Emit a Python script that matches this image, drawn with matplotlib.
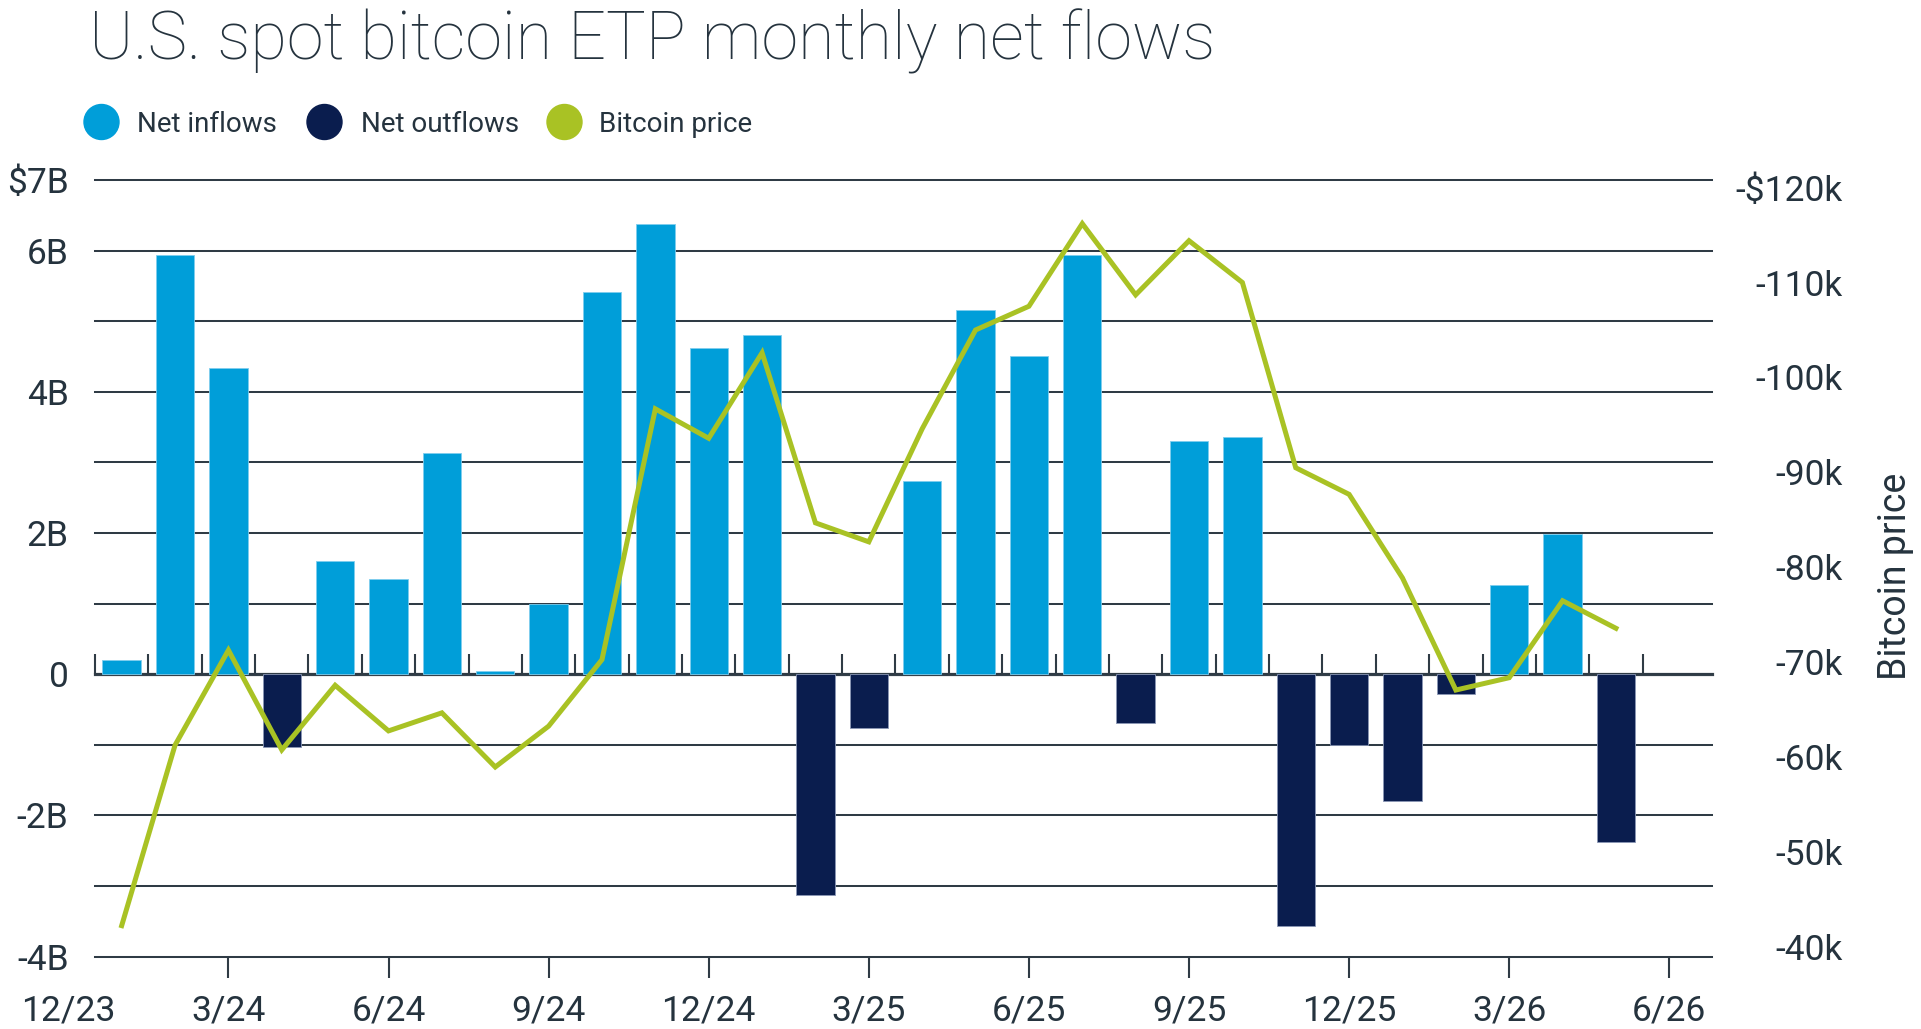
import numpy as np
import matplotlib
matplotlib.use("Agg")
import matplotlib.pyplot as plt
from matplotlib.patches import Circle
from matplotlib.transforms import offset_copy

# ---------------- data ----------------
months = ["1/24", "2/24", "3/24", "4/24", "5/24", "6/24", "7/24", "8/24", "9/24",
          "10/24", "11/24", "12/24", "1/25", "2/25", "3/25", "4/25", "5/25", "6/25",
          "7/25", "8/25", "9/25", "10/25", "11/25", "12/25", "1/26", "2/26", "3/26",
          "4/26", "5/26"]
net_flows_b = [0.20, 5.94, 4.34, -1.03, 1.60, 1.35, 3.14, 0.04, 0.99, 5.42, 6.37, 4.62,
               4.80, -3.12, -0.76, 2.74, 5.16, 4.51, 5.94, -0.69, 3.31, 3.36, -3.56, -1.00,
               -1.80, -0.28, 1.27, 1.98, -2.38]
btc_price_k = [42.3, 61.3, 71.3, 60.8, 67.6, 62.8, 64.7, 59.0, 63.3, 70.3, 96.7, 93.6,
               102.6, 84.7, 82.7, 94.6, 105.0, 107.5, 116.2, 108.7, 114.4, 110.0, 90.5, 87.7,
               78.9, 67.1, 68.4, 76.5, 73.6]
quarter_labels = ["12/23", "3/24", "6/24", "9/24", "12/24", "3/25", "6/25", "9/25",
                  "12/25", "3/26", "6/26"]
left_ticks = [-4, -3, -2, -1, 0, 1, 2, 3, 4, 5, 6, 7]
left_labels = ["-4B", "", "-2B", "", "0", "", "2B", "", "4B", "", "6B", "$7B"]
right_ticks = [40, 50, 60, 70, 80, 90, 100, 110, 120]
right_labels = ["-40k", "-50k", "-60k", "-70k", "-80k", "-90k", "-100k", "-110k", "-$120k"]

# ---------------- style ----------------
C_IN = "#009ed9"
C_OUT = "#0a1d4e"
C_PRICE = "#a9c224"
C_TEXT = "#25333e"
C_GRID = "#2f3b45"
FONT = "Roboto"
TICK_FS = 25.5

plt.rcParams["font.family"] = [FONT, "DejaVu Sans"]

W, H = 1921, 1029
fig = plt.figure(figsize=(W / 100, H / 100), dpi=100)

# axes placement in pixels
ax_l, ax_r, ax_b, ax_t = 95, 1712, 956.7, 180.0
ax = fig.add_axes([ax_l / W, 1 - ax_b / H, (ax_r - ax_l) / W, (ax_b - ax_t) / H])

x = np.arange(1, len(months) + 1)
flows = np.array(net_flows_b)
colors = [C_IN if v >= 0 else C_OUT for v in flows]
edges = ["#7fcdee" if v >= 0 else "#8a97b5" for v in flows]
ax.bar(x, flows, width=0.72, color=colors, edgecolor=edges, linewidth=0.6, zorder=2)

ax.set_xlim(0.5, 30.8)
ax.set_ylim(-4, 7)
ax.set_yticks(left_ticks)
ax.set_yticklabels(left_labels)
ax.yaxis.grid(True, color=C_GRID, linewidth=1.45)
ax.set_axisbelow(True)
for gl in ax.get_ygridlines():
    gl.set_clip_on(False)
for s in ["top", "left", "right"]:
    ax.spines[s].set_visible(False)
ax.spines["bottom"].set_color(C_GRID)
ax.spines["bottom"].set_linewidth(1.45)

ax.tick_params(axis="y", length=0, pad=19, labelsize=TICK_FS, labelcolor=C_TEXT)
ax.set_xticks(np.arange(3, 31, 3))
ax.set_xticklabels(quarter_labels[1:])
X_TICK_LEN, X_PAD = 15, 12
ax.tick_params(axis="x", direction="out", length=X_TICK_LEN, width=1.5, color=C_GRID,
               pad=X_PAD, labelsize=TICK_FS, labelcolor=C_TEXT)
# first quarter label lies left of the plotting area
tr = offset_copy(ax.get_xaxis_transform(), fig=fig, x=0, y=-(X_TICK_LEN + X_PAD),
                 units="points")
ax.text(0, 0, quarter_labels[0], transform=tr, ha="center", va="top",
        fontsize=TICK_FS, color=C_TEXT, clip_on=False)

# zero line with month-boundary ticks
zero_loc = (0 - (-4)) / 11
sec = ax.secondary_xaxis(zero_loc)
sec.set_xticks(np.arange(0.5, 30, 1.0))
sec.set_xticklabels([])
sec.tick_params(axis="x", direction="in", length=14.4, width=1.5, color=C_GRID)
sec.spines["bottom"].set_color("#35414b")
sec.spines["bottom"].set_linewidth(2.3)
for s in ["top", "left", "right"]:
    sec.spines[s].set_visible(False)

# price on right axis
ax2 = ax.twinx()
ax2.plot(x, btc_price_k, color=C_PRICE, linewidth=3.6, solid_joinstyle="miter", zorder=3)
ax2.set_ylim(39.03, 120.79)
ax2.set_yticks(right_ticks)
ax2.set_yticklabels(right_labels)
for lab in ax2.get_yticklabels():
    lab.set_horizontalalignment("right")
ax2.tick_params(axis="y", length=0, pad=94.3, labelsize=TICK_FS, labelcolor=C_TEXT)
for s in ax2.spines.values():
    s.set_visible(False)

fig.text(1895 / W, 1 - 576 / H, "Bitcoin price", rotation=90, ha="center", va="center",
         fontsize=27, color=C_TEXT)

# title
fig.text(89 / W, 1 - 60 / H, "U.S. spot bitcoin ETP monthly net flows", ha="left",
         va="baseline", fontsize=48, fontweight="light", color=C_TEXT)

# legend
legend_items = [("Net inflows", C_IN, 101.5, 137), ("Net outflows", C_OUT, 324.5, 361),
                ("Bitcoin price", C_PRICE, 564.5, 599)]
for label, col, cx, tx in legend_items:
    fig.add_artist(Circle((cx / 100, (H - 122) / 100), 0.175, transform=fig.dpi_scale_trans,
                          color=col, clip_on=False))
    fig.text(tx / W, 1 - 122 / H, label, ha="left", va="center_baseline", fontsize=20,
             color=C_TEXT)

fig.savefig("out.png", dpi=100)
